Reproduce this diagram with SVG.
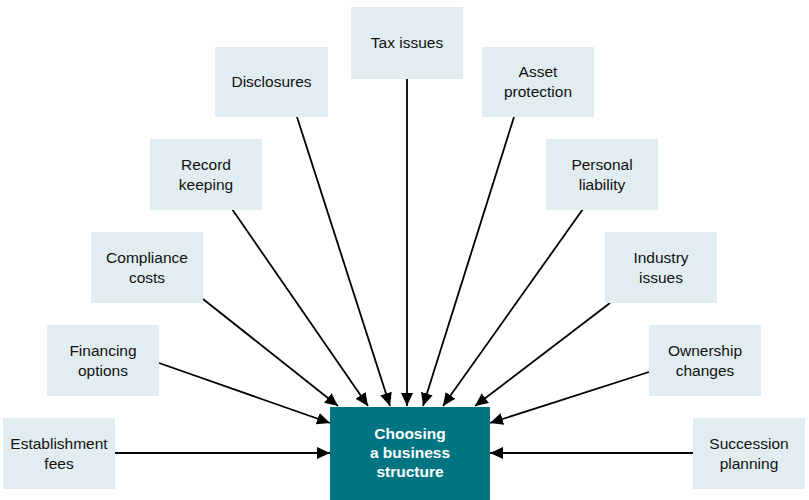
<svg xmlns="http://www.w3.org/2000/svg" width="809" height="500" viewBox="0 0 809 500">
<style>
  .box{fill:#e1edf0;}
  .lbl{font-family:"Liberation Sans",Arial,sans-serif;font-size:15.5px;fill:#111;text-anchor:middle;}
  .core{fill:#007481;}
  .corelbl{font-family:"Liberation Sans",Arial,sans-serif;font-size:15.5px;font-weight:bold;fill:#fff;text-anchor:middle;}
  .conn{stroke:#000;stroke-width:1.8;fill:none;marker-end:url(#ah);}
</style>
<defs>
  <marker id="ah" markerUnits="userSpaceOnUse" markerWidth="14" markerHeight="12" refX="13" refY="6" orient="auto">
    <path d="M0,0 L13,6 L0,12 Z" fill="#000"/>
  </marker>
</defs>
<rect width="809" height="500" fill="#fff"/>
<g id="connectors">
  <line class="conn" x1="115" y1="453" x2="330" y2="453"/>
  <line class="conn" x1="159" y1="363" x2="330" y2="423"/>
  <line class="conn" x1="203" y1="299" x2="338" y2="406"/>
  <line class="conn" x1="232" y1="209" x2="368" y2="406"/>
  <line class="conn" x1="297" y1="117" x2="390" y2="406"/>
  <line class="conn" x1="407" y1="79" x2="407" y2="406"/>
  <line class="conn" x1="514" y1="117" x2="423" y2="406"/>
  <line class="conn" x1="583" y1="209" x2="443" y2="406"/>
  <line class="conn" x1="610" y1="303" x2="475" y2="406"/>
  <line class="conn" x1="649" y1="372" x2="490" y2="423"/>
  <line class="conn" x1="693" y1="453" x2="490" y2="453"/>
</g>
<g id="core">
  <rect class="core" x="330" y="407" width="160" height="93"/>
  <text class="corelbl" x="410" y="439">Choosing</text>
  <text class="corelbl" x="410" y="458">a business</text>
  <text class="corelbl" x="410" y="477">structure</text>
</g>
<g id="establishment">
  <rect class="box" x="3" y="418" width="112" height="71"/>
  <text class="lbl" x="59" y="449">Establishment</text>
  <text class="lbl" x="59" y="469">fees</text>
</g>
<g id="financing">
  <rect class="box" x="47" y="325" width="112" height="71"/>
  <text class="lbl" x="103" y="356">Financing</text>
  <text class="lbl" x="103" y="376">options</text>
</g>
<g id="compliance">
  <rect class="box" x="91" y="232" width="112" height="71"/>
  <text class="lbl" x="147" y="263">Compliance</text>
  <text class="lbl" x="147" y="283">costs</text>
</g>
<g id="record">
  <rect class="box" x="150" y="139" width="112" height="71"/>
  <text class="lbl" x="206" y="170">Record</text>
  <text class="lbl" x="206" y="190">keeping</text>
</g>
<g id="disclosures">
  <rect class="box" x="215" y="47" width="113" height="70"/>
  <text class="lbl" x="271.5" y="87">Disclosures</text>
</g>
<g id="tax">
  <rect class="box" x="351" y="7" width="112" height="72"/>
  <text class="lbl" x="407" y="48">Tax issues</text>
</g>
<g id="asset">
  <rect class="box" x="482" y="47" width="112" height="70"/>
  <text class="lbl" x="538" y="77">Asset</text>
  <text class="lbl" x="538" y="97">protection</text>
</g>
<g id="personal">
  <rect class="box" x="546" y="139" width="112" height="71"/>
  <text class="lbl" x="602" y="170">Personal</text>
  <text class="lbl" x="602" y="190">liability</text>
</g>
<g id="industry">
  <rect class="box" x="605" y="232" width="112" height="71"/>
  <text class="lbl" x="661" y="263">Industry</text>
  <text class="lbl" x="661" y="283">issues</text>
</g>
<g id="ownership">
  <rect class="box" x="649" y="325" width="112" height="71"/>
  <text class="lbl" x="705" y="356">Ownership</text>
  <text class="lbl" x="705" y="376">changes</text>
</g>
<g id="succession">
  <rect class="box" x="693" y="418" width="112" height="71"/>
  <text class="lbl" x="749" y="449">Succession</text>
  <text class="lbl" x="749" y="469">planning</text>
</g>
</svg>
